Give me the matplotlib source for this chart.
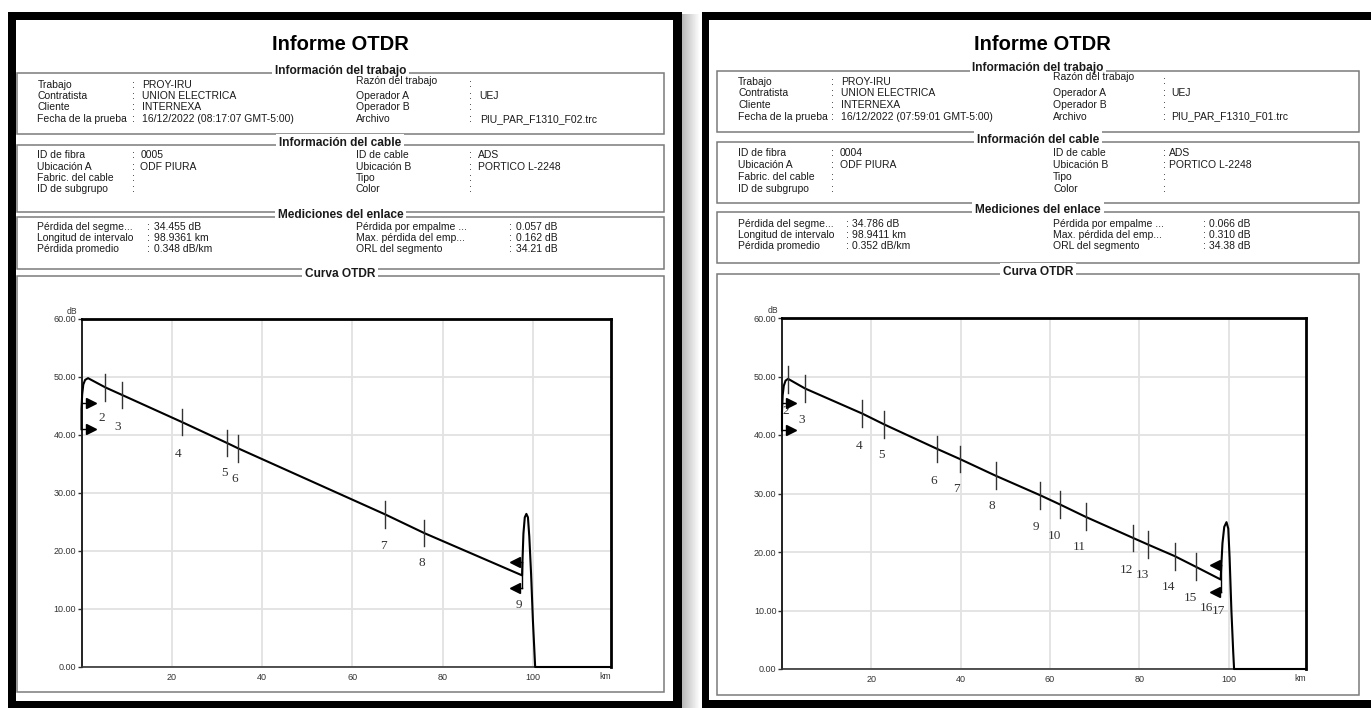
import matplotlib
matplotlib.use("Agg")
import matplotlib.pyplot as plt
from matplotlib.patches import Rectangle
import numpy as np

# ------------------------------------------------------------------ data
job_labels_l = ["Trabajo", "Contratista", "Cliente", "Fecha de la prueba"]
job_labels_r = ["Razón del trabajo", "Operador A", "Operador B", "Archivo"]
job_values_l_A = ["PROY-IRU", "UNION ELECTRICA", "INTERNEXA", "16/12/2022 (08:17:07 GMT-5:00)"]
job_values_r_A = ["", "UEJ", "", "PIU_PAR_F1310_F02.trc"]
job_values_l_B = ["PROY-IRU", "UNION ELECTRICA", "INTERNEXA", "16/12/2022 (07:59:01 GMT-5:00)"]
job_values_r_B = ["", "UEJ", "", "PIU_PAR_F1310_F01.trc"]

cable_labels_l = ["ID de fibra", "Ubicación A", "Fabric. del cable", "ID de subgrupo"]
cable_labels_r = ["ID de cable", "Ubicación B", "Tipo", "Color"]
cable_values_l_A = ["0005", "ODF PIURA", "", ""]
cable_values_l_B = ["0004", "ODF PIURA", "", ""]
cable_values_r = ["ADS", "PORTICO L-2248", "", ""]

meas_labels_l = ["Pérdida del segme...", "Longitud de intervalo", "Pérdida promedio"]
meas_labels_r = ["Pérdida por empalme ...", "Max. pérdida del emp...", "ORL del segmento"]
meas_values_l_A = ["34.455 dB", "98.9361 km", "0.348 dB/km"]
meas_values_r_A = ["0.057 dB", "0.162 dB", "34.21 dB"]
meas_values_l_B = ["34.786 dB", "98.9411 km", "0.352 dB/km"]
meas_values_r_B = ["0.066 dB", "0.310 dB", "34.38 dB"]

section_titles = ["Información del trabajo", "Información del cable",
                  "Mediciones del enlace", "Curva OTDR"]

y_ticks = [0, 10, 20, 30, 40, 50, 60]
x_ticks = [20, 40, 60, 80, 100]
x_max_km = 117.3

# trace A (fibre 0005)
trace_km_A = [0.0, 0.0, 0.15, 0.4, 0.8, 1.45, 5.3, 9.0, 22.2, 32.3, 34.7, 67.3, 75.9,
              97.6, 97.7, 97.9, 98.2, 98.55, 98.9, 99.2, 99.6, 100.0, 100.5, 117.3]
trace_db_A = [41.0, 44.5, 47.0, 48.7, 49.5, 49.8, 48.2, 46.9, 42.25, 38.6, 37.7, 26.3, 23.1,
              15.8, 18.5, 23.0, 25.8, 26.4, 25.8, 22.5, 16.0, 8.0, 0.0, 0.0]
event_km_A = [5.3, 9.0, 22.2, 32.3, 34.7, 67.3, 75.9]
event_db_A = [48.2, 46.9, 42.25, 38.6, 37.7, 26.3, 23.1]
event_labels_A = ["2", "3", "4", "5", "6", "7", "8", "9"]
label_km_A = [4.5, 8.0, 21.4, 31.6, 33.9, 66.8, 75.4, 96.9]
label_db_A = [43.0, 41.45, 36.8, 33.4, 32.35, 20.9, 17.85, 10.65]
launch_arrow_db_A = [45.5, 41.0]
launch_tip_km_A = 3.2
end_arrow_db_A = [18.1, 13.7]
end_tip_km_A = 95.0
end_km_A = 97.6

# trace B (fibre 0004)
trace_km_B = [0.0, 0.0, 0.15, 0.4, 0.8, 1.36, 5.16, 18.0, 22.9, 34.8, 39.8, 47.8, 57.8, 62.3,
              68.0, 78.6, 82.0, 87.9, 92.7, 98.2, 98.3, 98.6, 99.0, 99.5, 99.9, 100.2, 100.6,
              101.0, 101.2, 117.3]
trace_db_B = [40.8, 44.0, 46.8, 48.4, 49.3, 49.6, 47.95, 43.65, 41.8, 37.6, 35.9, 33.05, 29.7,
              28.1, 26.0, 22.4, 21.25, 19.3, 17.45, 15.3, 17.0, 21.5, 24.3, 25.1, 24.0, 19.0,
              10.0, 3.0, 0.0, 0.0]
event_km_B = [1.36, 5.16, 18.0, 22.9, 34.8, 39.8, 47.8, 57.8, 62.3, 68.0, 78.6, 82.0, 87.9, 92.7]
event_db_B = [49.45, 47.95, 43.65, 41.8, 37.6, 35.9, 33.05, 29.7, 28.1, 26.0, 22.4, 21.25, 19.3, 17.45]
event_labels_B = ["2", "3", "4", "5", "6", "7", "8", "9", "10", "11", "12", "13", "14",
                  "15", "16", "17"]
label_km_B = [0.8, 4.5, 17.3, 22.2, 34.0, 39.0, 47.0, 56.9, 61.0, 66.6, 77.1, 80.6, 86.6,
              91.4, 95.1, 97.6]
label_db_B = [44.05, 42.5, 38.2, 36.5, 32.2, 30.7, 27.8, 24.3, 22.8, 20.8, 17.0, 16.0, 14.0,
              12.2, 10.4, 9.85]
launch_arrow_db_B = [45.4, 40.8]
launch_tip_km_B = 3.0
end_arrow_db_B = [17.7, 13.1]
end_tip_km_B = 95.9
end_km_B = 98.2

# ------------------------------------------------------------------ figure
W, H = 1371, 708
fig = plt.figure(figsize=(W / 100, H / 100), dpi=100)
fig.patch.set_facecolor("white")
bg = fig.add_axes([0, 0, 1, 1])
bg.axis("off")

SANS = ["Liberation Sans Narrow", "Liberation Sans", "DejaVu Sans"]
SERIF = ["Liberation Serif", "DejaVu Serif"]
TXT = "#1a1a1a"

# shadow between the two pages
grad = np.linspace(0.72, 1.0, 40).reshape(1, -1)
bg.imshow(grad, extent=[682, 700, 708, 14], cmap="gray", vmin=0, vmax=1,
          aspect="auto", zorder=0)
bg.set_xlim(0, W)
bg.set_ylim(H, 0)


def blk(x0, y0, x1, y1):
    bg.add_patch(Rectangle((x0, y0), x1 - x0, y1 - y0, facecolor="black",
                           edgecolor="none", zorder=1))


# page frames
blk(8, 12, 682, 20); blk(8, 12, 16, 708); blk(673, 12, 682, 708); blk(8, 701, 682, 708)
blk(702, 12, 1371, 20); blk(702, 12, 709, 708); blk(702, 700, 1371, 708)

ROW_FS = 7.5


def page(bl, br, title_xy, boxes, job_rows, razon_y, cable_rows, meas_rows, cols, mcols,
         jl_vals, jr_vals, cl_vals, ml_vals, mr_vals):
    bg.text(title_xy[0], title_xy[1], "Informe OTDR", ha="center", va="center",
            fontsize=14.5, fontweight="bold", family=SANS, color="black", zorder=3)
    for (top, bot), name in zip(boxes, section_titles):
        bg.add_patch(Rectangle((bl, top), br - bl, bot - top, fill=False,
                               edgecolor="#7a7a7a", lw=1.1, zorder=2))
        bg.text((bl + br) / 2, top - 2.0, name, ha="center", va="center",
                fontsize=8.6, fontweight="bold", family=SANS, color=TXT, zorder=3,
                bbox=dict(facecolor="white", edgecolor="none", pad=2.0))
    c_lab, c_col, c_val, c_rlab, c_rcol, c_rval = cols
    kw = dict(fontsize=ROW_FS, family=SANS, color=TXT, va="center", ha="left", zorder=3)

    def rows(ys, ll, lv, rl, rv, cc, ry0=None):
        for i, y in enumerate(ys):
            bg.text(bl + c_lab, y, ll[i], **kw)
            bg.text(bl + cc[0], y, ":", **kw)
            if lv[i]:
                bg.text(bl + cc[1], y, lv[i], **kw)
            yr = y if (ry0 is None or i > 0) else ry0
            bg.text(bl + c_rlab, yr, rl[i], **kw)
            ycol = y if (ry0 is None or i > 0) else (y + yr) / 2 + 1.5
            bg.text(bl + cc[2], ycol, ":", **kw)
            if rv[i]:
                bg.text(bl + cc[3], y, rv[i], **kw)

    rows(job_rows, job_labels_l, jl_vals, job_labels_r, jr_vals,
         (c_col, c_val, c_rcol, c_rval), ry0=razon_y)
    rows(cable_rows, cable_labels_l, cl_vals, cable_labels_r, cable_values_r,
         (c_col, c_val - 1.5, c_rcol, c_rval - 2))
    rows(meas_rows, meas_labels_l, ml_vals, meas_labels_r, mr_vals, mcols)


page(16.7, 664, (340, 45), [(73, 134), (145, 212), (217, 269), (276, 692)],
     [84.5, 96, 107.5, 119], 81, [155, 166.5, 178, 189.5], [227, 238, 249],
     (20.7, 115.3, 125, 338.8, 452, 463), (129.8, 136.8, 492.3, 499.3),
     job_values_l_A, job_values_r_A, cable_values_l_A, meas_values_l_A, meas_values_r_A)
page(717, 1359, (1042, 44), [(70.5, 132), (142, 203), (212, 262.5), (274, 695)],
     [82, 93.5, 105, 116.5], 77, [153.3, 165, 176.7, 188.5], [224, 235, 246],
     (21.2, 114, 124, 336, 446.5, 454), (129.4, 134.6, 485.6, 492),
     job_values_l_B, job_values_r_B, cable_values_l_B, meas_values_l_B, meas_values_r_B)


# ------------------------------------------------------------------ OTDR plots
def otdr(px, km, db, ev_km, ev_db, labs, lab_km, lab_db, la_db, la_tip, ea_db, ea_tip, e_km):
    x0, x1, yt, yb = px
    ax = fig.add_axes([x0 / W, (H - yb) / H, (x1 - x0) / W, (yb - yt) / H])
    ax.set_facecolor("white")
    ax.set_xlim(0, x_max_km)
    ax.set_ylim(0, 60)
    ax.set_yticks(y_ticks)
    ax.set_yticklabels([f"{v:.2f}" for v in y_ticks])
    ax.set_xticks(x_ticks)
    ax.set_xticklabels([str(v) for v in x_ticks])
    ax.grid(True, color="#e2e2e2", lw=1.3, zorder=0)
    ax.set_axisbelow(True)
    ax.tick_params(axis="y", length=3, width=1, direction="out", pad=1,
                   labelsize=6.5, labelcolor="#333333", color="#333333")
    ax.tick_params(axis="x", length=0, pad=4, labelsize=6.5, labelcolor="#333333")
    for lab in ax.get_xticklabels() + ax.get_yticklabels():
        lab.set_family(SANS)
    for s in ("top", "right"):
        ax.spines[s].set_linewidth(2.0)
        ax.spines[s].set_color("black")
    ax.spines["left"].set_linewidth(1.4)
    ax.spines["left"].set_color("#222222")
    ax.spines["bottom"].set_linewidth(1.2)
    ax.spines["bottom"].set_color("#333333")
    ax.plot(km, db, color="black", lw=1.5, zorder=4, clip_on=False)
    for k, d in zip(ev_km, ev_db):
        ax.plot([k, k], [d - 2.3, d + 2.3], color="#333333", lw=1.0, zorder=5)
    for s, k, d in zip(labs, lab_km, lab_db):
        ax.text(k, d, s, ha="center", va="center", fontsize=9.5, family=SERIF,
                color="#333333", zorder=6)
    for d in la_db:
        ax.plot([0, la_tip - 1.0], [d, d], color="black", lw=1.0, zorder=5)
        ax.plot([la_tip - 1.0], [d], marker=">", ms=6.8, color="black", zorder=6)
    for d in ea_db:
        ax.plot([ea_tip + 1.0, e_km], [d, d], color="black", lw=1.0, zorder=5)
        ax.plot([ea_tip + 1.0], [d], marker="<", ms=6.8, color="black", zorder=6)
    ax.plot([e_km, e_km], [min(ea_db), max(ea_db)], color="black", lw=1.0, zorder=5)
    ax.text(-0.018, 1.008, "dB", transform=ax.transAxes, ha="center", va="bottom",
            fontsize=6.2, family=SANS, color="#333333")
    ax.text(1.0, -0.013, "km", transform=ax.transAxes, ha="right", va="top",
            fontsize=6.2, family=SANS, color="#333333")
    return ax


otdr((81.5, 611, 319, 667), trace_km_A, trace_db_A, event_km_A, event_db_A, event_labels_A,
     label_km_A, label_db_A, launch_arrow_db_A, launch_tip_km_A, end_arrow_db_A,
     end_tip_km_A, end_km_A)
otdr((782, 1306, 318, 669), trace_km_B, trace_db_B, event_km_B, event_db_B, event_labels_B,
     label_km_B, label_db_B, launch_arrow_db_B, launch_tip_km_B, end_arrow_db_B,
     end_tip_km_B, end_km_B)

fig.savefig("out.png", dpi=100, facecolor="white")
